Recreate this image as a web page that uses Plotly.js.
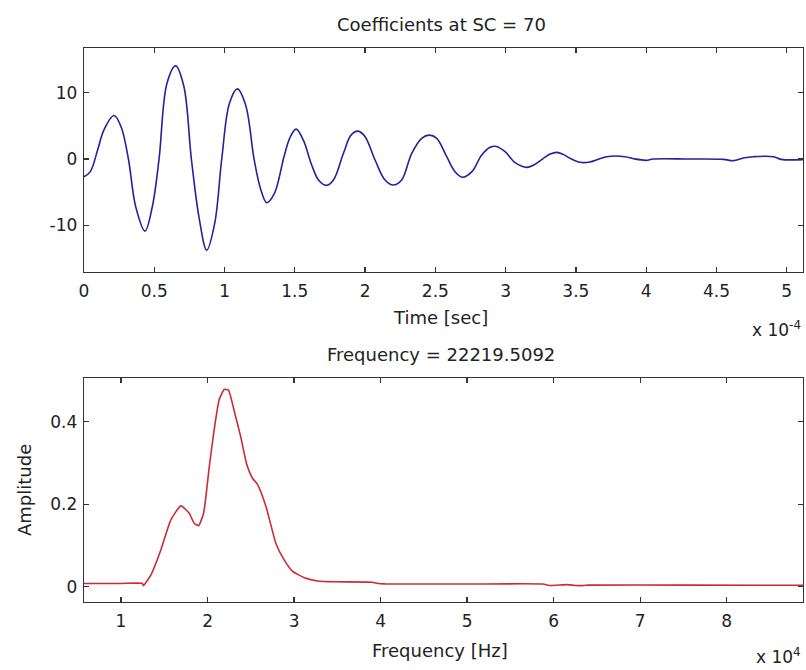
<!DOCTYPE html>
<html>
<head>
<meta charset="utf-8">
<script src="https://cdn.plot.ly/plotly-3.0.1.min.js"></script>
<style>html,body{margin:0;padding:0;background:#fff;}#chart{width:806px;height:670px;}</style>
</head>
<body>
<div id="chart"></div>
<script>
// ---- Data ----
// Top panel: time (in units of 1e-4 s) and coefficient values
const timeE4 = [0, 0.045, 0.1, 0.142, 0.2135, 0.265, 0.316, 0.368, 0.434, 0.486, 0.534, 0.59, 0.652, 0.71, 0.764, 0.82, 0.873, 0.93, 0.98, 1.035, 1.091, 1.15, 1.21, 1.255, 1.30, 1.355, 1.423, 1.465, 1.509, 1.56, 1.62, 1.67, 1.725, 1.775, 1.846, 1.9, 1.95, 2.0, 2.071, 2.142, 2.2, 2.26, 2.332, 2.403, 2.457, 2.51, 2.581, 2.64, 2.695, 2.76, 2.83, 2.89, 2.935, 2.996, 3.068, 3.15, 3.2, 3.269, 3.317, 3.364, 3.41, 3.459, 3.53, 3.6, 3.72, 3.85, 3.91, 4.0, 4.05, 4.3, 4.55, 4.62, 4.7, 4.764, 4.906, 4.96, 5.115];
const coefficients = [-2.67, -1.9, 1.6, 4.4, 6.55, 4.8, 0, -7.2, -10.88, -7.2, 0, 11.4, 14.05, 11.0, 0, -9.0, -13.75, -9.7, 0, 8.4, 10.57, 8.15, 0, -4.4, -6.6, -5.2, 0.35, 3.2, 4.5, 2.87, -0.9, -3.2, -3.98, -3.17, 0.86, 3.6, 4.2, 3.37, -0.15, -3.17, -3.93, -3.17, 0.86, 3.12, 3.6, 3.12, 0.35, -1.91, -2.75, -1.91, 0.6, 1.76, 1.9, 1.1, -0.55, -1.26, -0.9, 0.1, 0.75, 1.0, 0.7, 0.1, -0.5, -0.45, 0.35, 0.35, 0.05, -0.2, 0.0, 0.0, -0.05, -0.25, 0.2, 0.35, 0.35, -0.05, -0.1];

// Bottom panel: frequency (in units of 1e4 Hz) and amplitude
const freqE4 = [0.572, 1.0, 1.247, 1.258, 1.344, 1.46, 1.576, 1.692, 1.788, 1.846, 1.896, 1.954, 2.02, 2.076, 2.134, 2.192, 2.24, 2.306, 2.383, 2.45, 2.52, 2.58, 2.676, 2.79, 2.885, 2.98, 3.12, 3.275, 3.46, 3.9, 3.97, 4.05, 5.0, 5.875, 5.95, 6.16, 6.25, 6.35, 6.4, 7.5, 8.882];
const amplitude = [0.008, 0.008, 0.008, 0.0025, 0.028, 0.089, 0.162, 0.196, 0.178, 0.154, 0.148, 0.178, 0.291, 0.38, 0.453, 0.478, 0.477, 0.428, 0.364, 0.299, 0.263, 0.247, 0.194, 0.105, 0.065, 0.038, 0.022, 0.014, 0.012, 0.011, 0.008, 0.007, 0.0065, 0.0065, 0.003, 0.005, 0.003, 0.003, 0.004, 0.004, 0.0035];

// Tick values / labels
const timeTicks = [0, 0.5, 1, 1.5, 2, 2.5, 3, 3.5, 4, 4.5, 5];
const timeTickText = ['0', '0.5', '1', '1.5', '2', '2.5', '3', '3.5', '4', '4.5', '5'];
const coefTicks = [-10, 0, 10];
const coefTickText = ['-10', '0', '10'];
const freqTicks = [1, 2, 3, 4, 5, 6, 7, 8];
const freqTickText = ['1', '2', '3', '4', '5', '6', '7', '8'];
const ampTicks = [0, 0.2, 0.4];
const ampTickText = ['0', '0.2', '0.4'];

// Texts
const topTitle = 'Coefficients at SC = 70';
const topXLabel = 'Time [sec]';
const topXExp = 'x 10<sup>-4</sup>';
const bottomTitle = 'Frequency = 22219.5092';
const bottomXLabel = 'Frequency [Hz]';
const bottomYLabel = 'Amplitude';
const bottomXExp = 'x 10<sup>4</sup>';

// ---- Layout helpers ----
const W = 806, H = 670;
const px = x => x / W;
const py = y => 1 - y / H;
const FONT = 'DejaVu Sans, Arial, sans-serif';
const TXT = '#222222';
const AX = '#333333';

const axisCommon = {
  showgrid: false, zeroline: false, showline: true, linecolor: AX, linewidth: 1.3,
  mirror: 'ticks', ticks: 'inside', ticklen: 5, tickwidth: 1.3, tickcolor: AX,
  tickmode: 'array', tickfont: {family: FONT, size: 17, color: TXT}, automargin: false,
  fixedrange: true
};

const traces = [
  {x: timeE4, y: coefficients, type: 'scatter', mode: 'lines', xaxis: 'x', yaxis: 'y',
   line: {color: '#23239c', width: 1.6, shape: 'spline', smoothing: 1}, hoverinfo: 'skip'},
  {x: freqE4, y: amplitude, type: 'scatter', mode: 'lines', xaxis: 'x2', yaxis: 'y2',
   line: {color: '#cc2a3a', width: 1.6, shape: 'spline', smoothing: 0.5}, hoverinfo: 'skip'}
];

function ann(text, x, y, opts) {
  return Object.assign({text: text, xref: 'paper', yref: 'paper', x: px(x), y: py(y),
    xanchor: 'center', yanchor: 'middle', showarrow: false,
    font: {family: FONT, size: 18, color: TXT}}, opts || {});
}

const layout = {
  width: W, height: H, margin: {l: 0, r: 0, t: 0, b: 0},
  paper_bgcolor: '#ffffff', plot_bgcolor: '#ffffff', showlegend: false,
  xaxis: Object.assign({}, axisCommon, {domain: [px(84), px(803)], range: [0, 5.116],
    tickvals: timeTicks, ticktext: timeTickText, anchor: 'y', ticklabelstandoff: 3}),
  yaxis: Object.assign({}, axisCommon, {domain: [py(272), py(48)], range: [-17.04, 16.74],
    tickvals: coefTicks, ticktext: coefTickText, anchor: 'x', ticklabelstandoff: 2}),
  xaxis2: Object.assign({}, axisCommon, {domain: [px(84), px(803)], range: [0.572, 8.882],
    tickvals: freqTicks, ticktext: freqTickText, anchor: 'y2', ticklabelstandoff: 3}),
  yaxis2: Object.assign({}, axisCommon, {domain: [py(602), py(378)], range: [-0.037, 0.506],
    tickvals: ampTicks, ticktext: ampTickText, anchor: 'x2', ticklabelstandoff: 2}),
  annotations: [
    ann(topTitle, 441, 24),
    ann(topXLabel, 440, 317),
    ann(topXExp, 803, 329, {xanchor: 'right', font: {family: FONT, size: 17, color: TXT}}),
    ann(bottomTitle, 441, 354),
    ann(bottomYLabel, 24, 490, {textangle: -90}),
    ann(bottomXLabel, 440, 650),
    ann(bottomXExp, 803, 656, {xanchor: 'right', font: {family: FONT, size: 17, color: TXT}})
  ]
};

Plotly.newPlot('chart', traces, layout, {staticPlot: true, displayModeBar: false});
</script>
</body>
</html>
